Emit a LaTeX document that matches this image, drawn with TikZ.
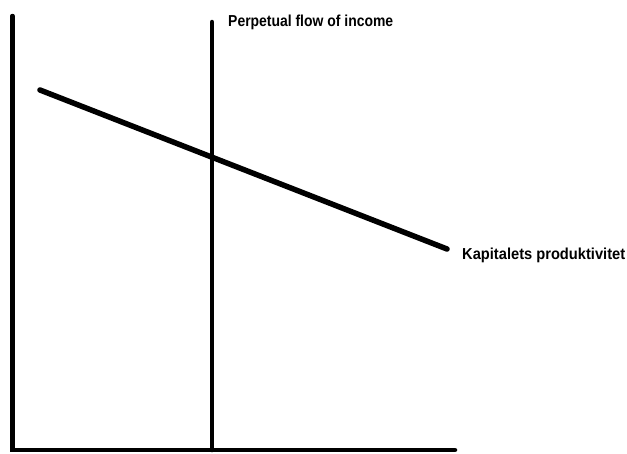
\documentclass[tikz,border=0pt]{standalone}
\usepackage{fontspec}
\setmainfont{Liberation Sans}
\begin{document}
\begin{tikzpicture}[x=1pt,y=-1pt,
  axis/.style={line width=4.5pt,line cap=round},
  curve/.style={line width=5.5pt,line cap=round},
  lbl/.style={inner sep=0pt,anchor=base west,font=\fontsize{16}{18}\selectfont\bfseries}]
\useasboundingbox (0,0) rectangle (627,453);
\coordinate (ytop) at (12.5,16);
\coordinate (origin) at (12.5,450);
\coordinate (xend) at (455,450);
\coordinate (vtop) at (212,22);
\coordinate (vbot) at (212,450);
\coordinate (dstart) at (40,90);
\coordinate (dend) at (447,249);
\draw[axis] (ytop) -- (origin) -- (xend);
\draw[axis] (vtop) -- (vbot);
\draw[curve] (dstart) -- (dend);
\node[lbl] (perp) at (228,26) {\resizebox{165pt}{11.5pt}{Perpetual flow of income}};
\node[lbl] (kap) at (462,259) {\resizebox{163pt}{11.5pt}{Kapitalets produktivitet}};
\end{tikzpicture}
\end{document}
